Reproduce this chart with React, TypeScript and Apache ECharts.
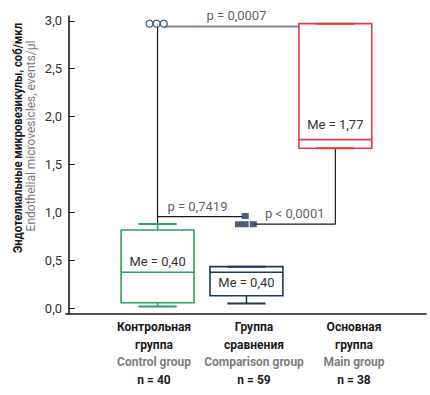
import React, { useEffect, useRef } from "react";
import * as echarts from "echarts";

const FONT = 'Roboto, "Liberation Sans", sans-serif';

// Categories
const ruLine1 = ["Контрольная", "Группа", "Основная"];
const ruLine2 = ["группа", "сравнения", "группа"];
const enNames = ["Control group", "Comparison group", "Main group"];
const nValues = [40, 59, 38];

// Box statistics (positions 1..3)
const groupPos = [1, 2, 3];
const lows = [0.017, 0.05, 1.67];
const q1s = [0.058, 0.13, 1.67];
const medians = [0.376, 0.376, 1.76];
const q3s = [0.817, 0.434, 2.97];
const highs = [0.88, 0.434, 2.97];
const groupColors = ["#27a35c", "#1d3a5c", "#e8393f"];

const medianLabels = ["Me = 0,40", "Me = 0,40", "Me = 1,77"];
const medianLabelY = [0.486, 0.264, 1.915];

// Outliers
const controlOutliers = [
  [0.91, 2.97],
  [0.99, 2.97],
  [1.07, 2.97],
];
const comparisonOutliers = [
  [1.91, 0.877],
  [1.986, 0.877],
  [2.077, 0.877],
  [1.986, 0.963],
];

// Significance brackets
const bracketVertical = [
  [1, 0.88],
  [1, 2.97],
];
const bracketTop = [
  [1.07, 2.94],
  [2.59, 2.94],
];
const bracketMid = [
  [1, 0.956],
  [1.96, 0.956],
];
const bracketLow = [
  [2.08, 0.877],
  [3.0, 0.877],
  [3.0, 1.67],
];
const pLabels = [
  { name: "p = 0,0007", value: [1.888, 3.06] },
  { name: "p = 0,7419", value: [1.449, 1.06] },
  { name: "p < 0,0001", value: [2.544, 0.984] },
];

const yTicks = [0, 0.5, 1.0, 1.5, 2.0, 2.5, 3.0];

export default function App() {
  const ref = useRef<HTMLDivElement>(null);
  useEffect(() => {
    document.body.style.margin = "0";
    if (!ref.current) return;
    const chart = echarts.init(ref.current, undefined, { renderer: "svg" });
    const boxData = groupPos.map((p, i) => [p, lows[i], q1s[i], medians[i], q3s[i], highs[i]]);
    const option: any = {
      animation: false,
      backgroundColor: "#ffffff",
      textStyle: { fontFamily: FONT },
      grid: [
        { left: 66, right: 4, top: 16, bottom: 81, outerBoundsMode: "none", containLabel: false },
        { left: 104, width: 300, top: 16, bottom: 81, outerBoundsMode: "none", containLabel: false },
      ],
      xAxis: [
        {
          type: "value",
          gridIndex: 0,
          min: -0.03,
          max: 4.02,
          axisLine: { show: true, onZero: false, lineStyle: { color: "#1a1a1a", width: 1.6 } },
          axisTick: { show: false },
          axisLabel: { show: false },
          splitLine: { show: false },
        },
        {
          type: "category",
          gridIndex: 1,
          data: ruLine1,
          boundaryGap: true,
          axisLine: { show: false },
          axisTick: { show: false },
          axisLabel: {
            margin: 4,
            interval: 0,
            formatter: (_v: string, i: number) =>
              `{b|${ruLine1[i]}}\n{b|${ruLine2[i]}}\n{g|${enNames[i]}}\n{b|n = ${nValues[i]}}`,
            rich: {
              b: { fontFamily: FONT, fontWeight: "bold", fontSize: 12, color: "#1a1a1a", lineHeight: 17.7 },
              g: { fontFamily: FONT, fontWeight: "bold", fontSize: 12, color: "#7d7d7d", lineHeight: 17.7 },
            },
          },
          splitLine: { show: false },
        },
      ],
      yAxis: [
        {
          type: "value",
          gridIndex: 0,
          min: -0.06,
          max: 3.05,
          axisLine: { show: true, lineStyle: { color: "#1a1a1a", width: 1.6 } },
          axisTick: {
            show: true,
            inside: true,
            length: 6,
            customValues: yTicks,
            lineStyle: { color: "#1a1a1a", width: 1 },
          },
          axisLabel: {
            customValues: yTicks,
            margin: 4,
            fontFamily: FONT,
            fontSize: 13,
            color: "#333333",
            formatter: (v: number) => v.toFixed(1).replace(".", ","),
          },
          splitLine: { show: false },
        },
        {
          type: "value",
          gridIndex: 1,
          show: false,
          min: 0,
          max: 1,
        },
      ],
      graphic: [
        {
          type: "text",
          x: 18,
          y: 138,
          rotation: Math.PI / 2,
          scaleX: 0.94,
          style: {
            text: "Эндотелиальные микровезикулы, соб/мкл",
            font: `bold 12px ${FONT}`,
            fill: "#1a1a1a",
            align: "center",
            verticalAlign: "middle",
          },
        },
        {
          type: "text",
          x: 31,
          y: 136,
          rotation: Math.PI / 2,
          style: {
            text: "Endothelial microvesicles, events/µl",
            font: `12px ${FONT}`,
            fill: "#7a7a7a",
            align: "center",
            verticalAlign: "middle",
          },
        },
      ],
      series: [
        {
          type: "line",
          xAxisIndex: 0,
          yAxisIndex: 0,
          data: bracketTop,
          symbol: "none",
          lineStyle: { color: "#8a8a8a", width: 2 },
          z: 2,
        },
        {
          type: "line",
          xAxisIndex: 0,
          yAxisIndex: 0,
          data: bracketVertical,
          symbol: "none",
          lineStyle: { color: "#1a1a1a", width: 1.2 },
          z: 3,
        },
        {
          type: "line",
          xAxisIndex: 0,
          yAxisIndex: 0,
          data: bracketMid,
          symbol: "none",
          lineStyle: { color: "#1a1a1a", width: 1.2 },
          z: 3,
        },
        {
          type: "line",
          xAxisIndex: 0,
          yAxisIndex: 0,
          data: bracketLow,
          symbol: "none",
          lineStyle: { color: "#1a1a1a", width: 1.2 },
          z: 3,
        },
        {
          type: "custom",
          xAxisIndex: 0,
          yAxisIndex: 0,
          data: boxData,
          z: 4,
          renderItem: (params: any, api: any) => {
            const i = params.dataIndex;
            const x = api.value(0);
            const lo = api.coord([x, api.value(1)]);
            const q1 = api.coord([x, api.value(2)]);
            const med = api.coord([x, api.value(3)]);
            const q3 = api.coord([x, api.value(4)]);
            const hi = api.coord([x, api.value(5)]);
            const bw = api.size([0.82, 0])[0];
            const cw = api.size([0.43, 0])[0];
            const color = groupColors[i];
            const ls = { stroke: color, lineWidth: 1.6 };
            const labY = api.coord([x, medianLabelY[i]])[1];
            return {
              type: "group",
              children: [
                { type: "line", shape: { x1: lo[0], y1: lo[1], x2: q1[0], y2: q1[1] }, style: ls },
                { type: "line", shape: { x1: hi[0], y1: hi[1], x2: q3[0], y2: q3[1] }, style: ls },
                { type: "line", shape: { x1: lo[0] - cw / 2, y1: lo[1], x2: lo[0] + cw / 2, y2: lo[1] }, style: { stroke: color, lineWidth: 2 } },
                { type: "line", shape: { x1: hi[0] - cw / 2, y1: hi[1], x2: hi[0] + cw / 2, y2: hi[1] }, style: { stroke: color, lineWidth: 2 } },
                {
                  type: "rect",
                  shape: { x: q3[0] - bw / 2, y: q3[1], width: bw, height: q1[1] - q3[1] },
                  style: { stroke: color, lineWidth: 1.6, fill: "rgba(255,255,255,0)" },
                },
                { type: "line", shape: { x1: med[0] - bw / 2, y1: med[1], x2: med[0] + bw / 2, y2: med[1] }, style: ls },
                {
                  type: "text",
                  style: {
                    text: medianLabels[i],
                    x: med[0],
                    y: labY,
                    align: "center",
                    verticalAlign: "middle",
                    font: `13px ${FONT}`,
                    fill: "#333333",
                  },
                },
              ],
            };
          },
        },
        {
          type: "scatter",
          xAxisIndex: 0,
          yAxisIndex: 0,
          data: controlOutliers,
          symbol: "circle",
          symbolSize: 7,
          itemStyle: { color: "#ffffff", borderColor: "#1d3a5c", borderWidth: 1.3 },
          z: 5,
          clip: false,
        },
        {
          type: "scatter",
          xAxisIndex: 0,
          yAxisIndex: 0,
          data: comparisonOutliers,
          symbol: "rect",
          symbolSize: [7, 6],
          itemStyle: { color: "#1d3a5c" },
          z: 5,
          clip: false,
        },
        {
          type: "scatter",
          xAxisIndex: 0,
          yAxisIndex: 0,
          data: pLabels,
          symbolSize: 0,
          clip: false,
          z: 6,
          label: {
            show: true,
            position: "inside",
            formatter: (p: any) => p.name,
            fontFamily: FONT,
            fontSize: 13,
            color: "#333333",
          },
        },
      ],
    };
    chart.setOption(option);
    return () => chart.dispose();
  }, []);
  return <div ref={ref} style={{ width: 430, height: 395 }} />;
}
